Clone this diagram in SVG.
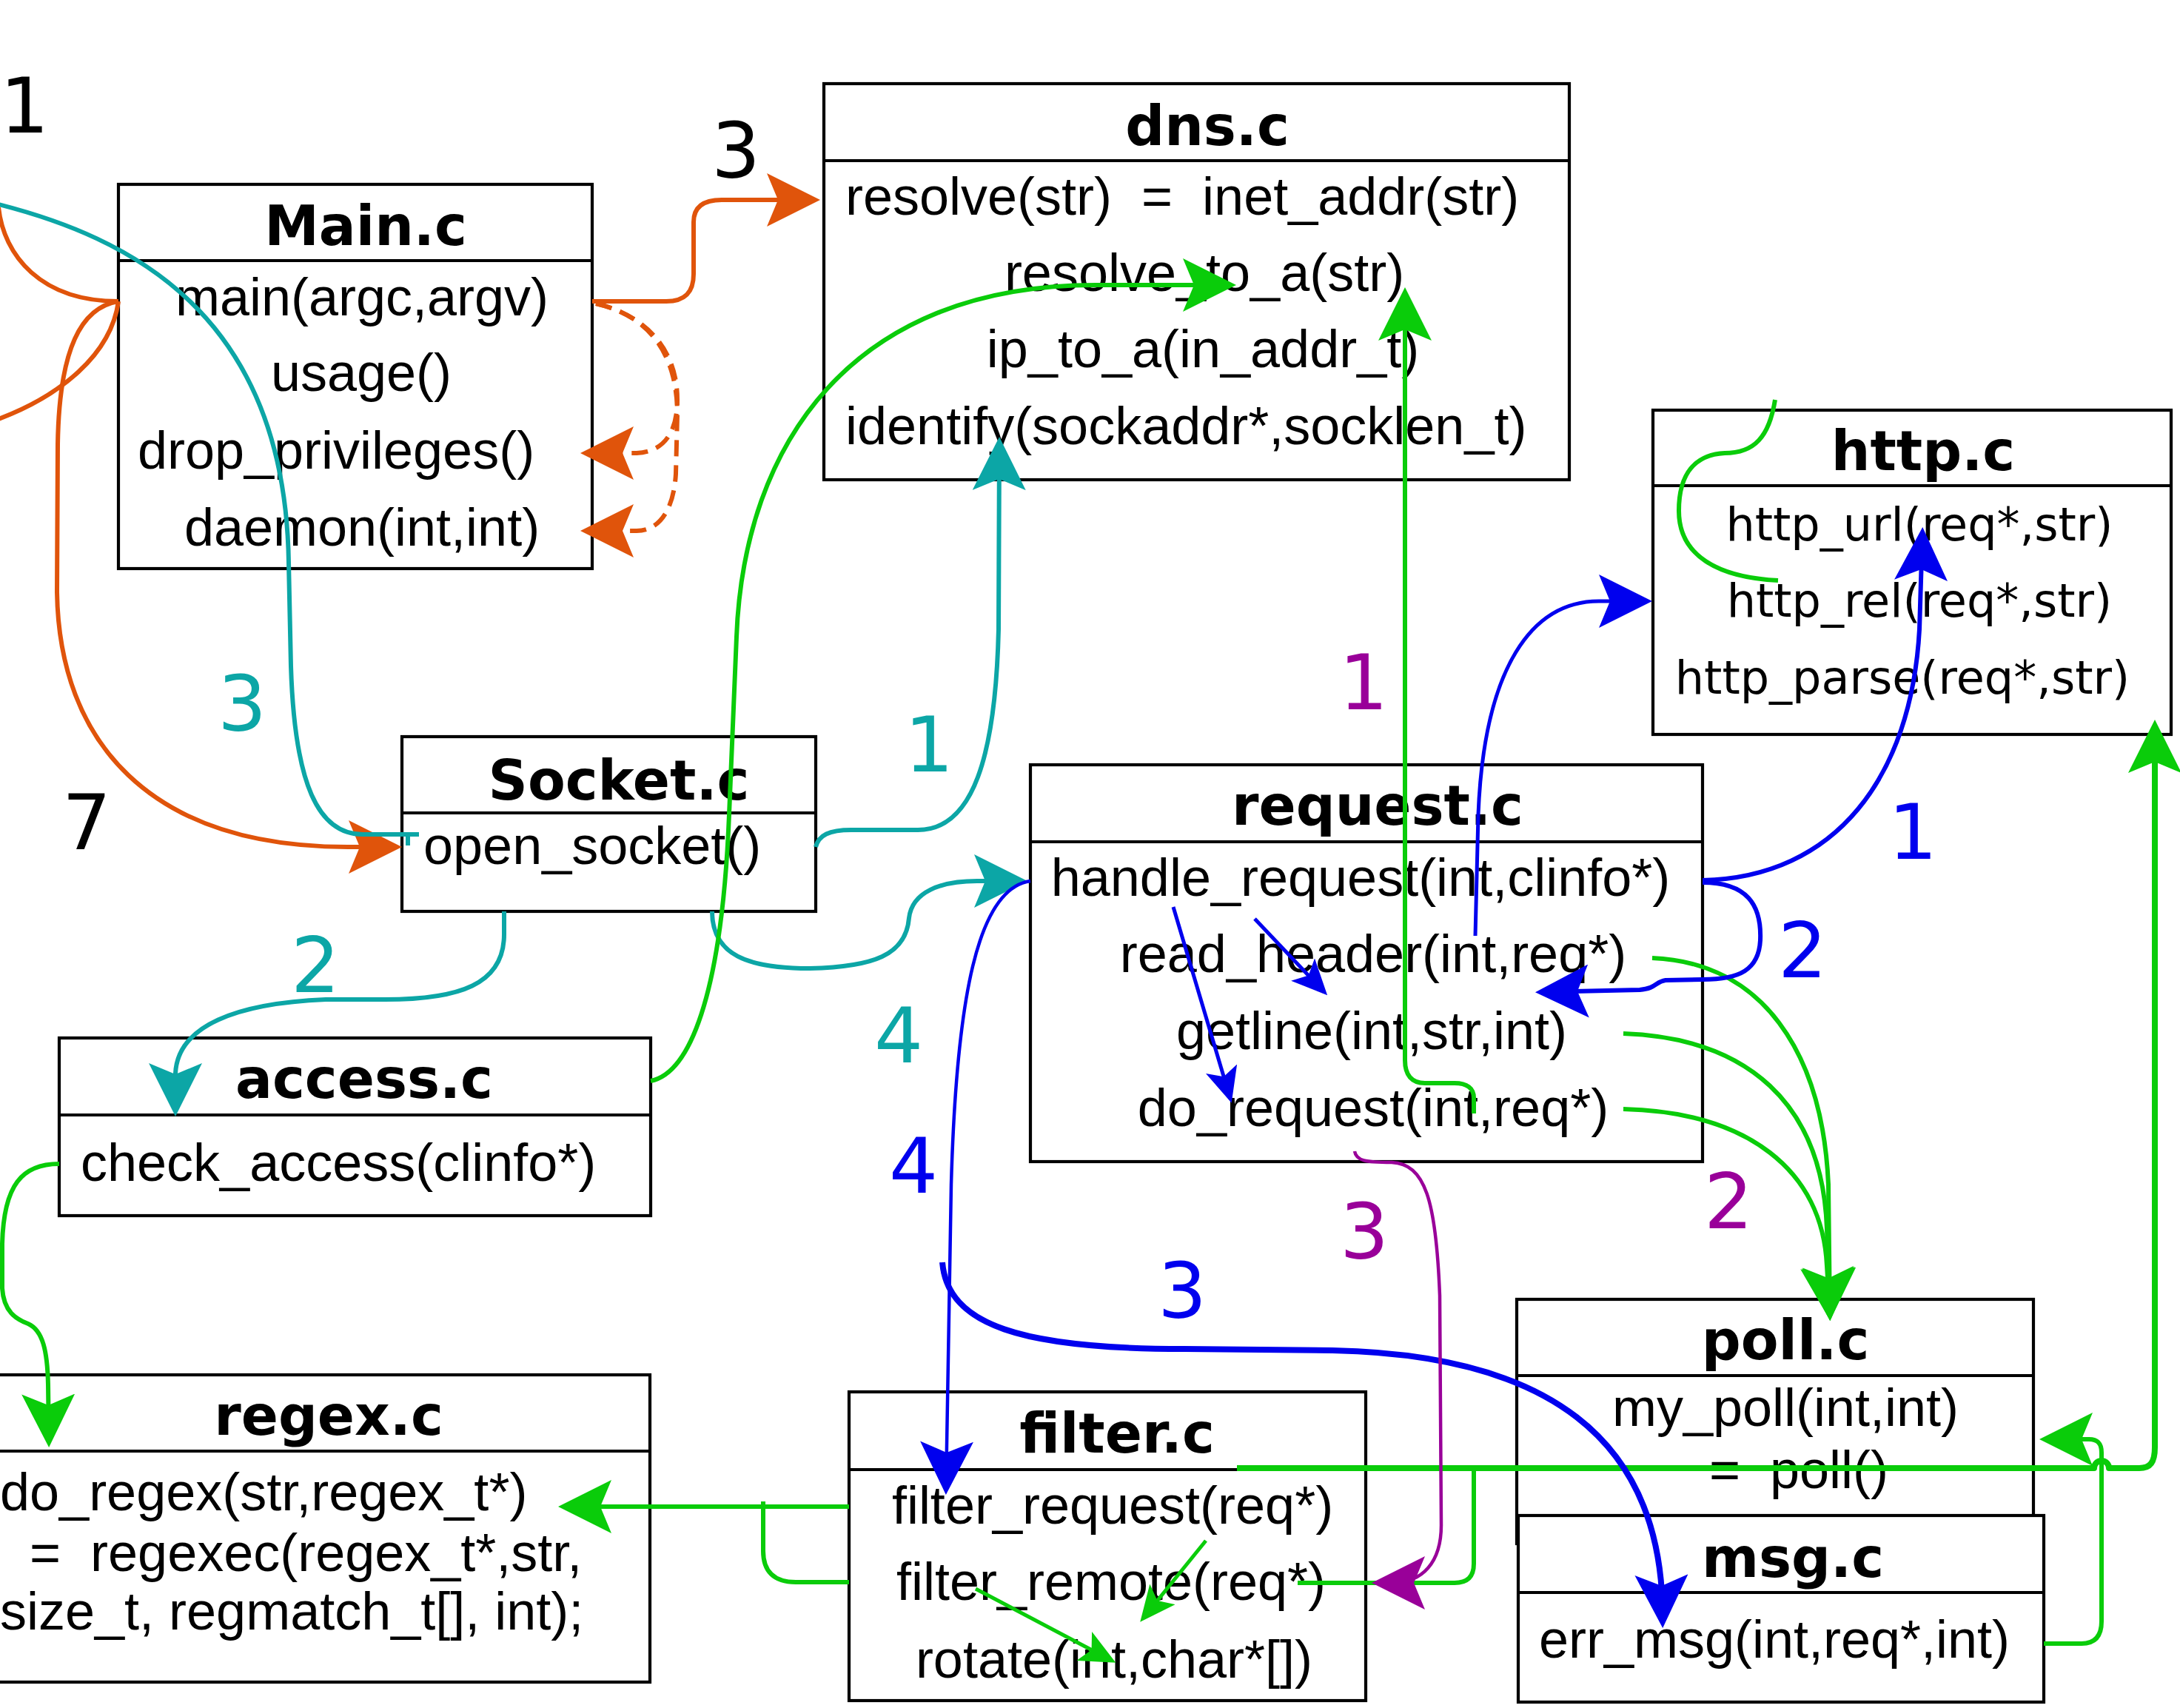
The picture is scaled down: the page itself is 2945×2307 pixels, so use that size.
<svg xmlns="http://www.w3.org/2000/svg" width="2945" height="2307" viewBox="0 0 2945 2307">
<style>
.box{fill:#fff;stroke:#000;stroke-width:4.2}
.ln{stroke:#000;stroke-width:4.2}
.t{font-family:"DejaVu Sans",Verdana,sans-serif;font-weight:bold;font-size:74px;text-anchor:middle;fill:#000}
.m{font-family:"Liberation Sans",Arial,sans-serif;font-size:72px;fill:#000;white-space:pre}
.c{text-anchor:middle}
.h{font-family:"DejaVu Sans",Verdana,sans-serif;font-size:62px;text-anchor:middle;fill:#000}
.n{font-family:"DejaVu Sans",Verdana,sans-serif;font-size:104px;text-anchor:middle}
.e{fill:none;stroke-linecap:butt;stroke-linejoin:round}
.o{stroke:#E0540B;stroke-width:6}
.tl{stroke:#0CA6A6;stroke-width:6}
.g{stroke:#0ACC0A;stroke-width:6}
.b{stroke:#0000EE;stroke-width:6}
.p{stroke:#990099;stroke-width:4.5}
</style>
<defs>
<marker id="mO" viewBox="0 0 72 72" markerWidth="72" markerHeight="72" markerUnits="userSpaceOnUse" refX="64" refY="36" orient="auto"><path d="M0 0L72 36L0 72L15 36Z" fill="#E0540B"/></marker>
<marker id="mT" viewBox="0 0 72 72" markerWidth="72" markerHeight="72" markerUnits="userSpaceOnUse" refX="64" refY="36" orient="auto"><path d="M0 0L72 36L0 72L15 36Z" fill="#0CA6A6"/></marker>
<marker id="mG" viewBox="0 0 72 72" markerWidth="72" markerHeight="72" markerUnits="userSpaceOnUse" refX="64" refY="36" orient="auto"><path d="M0 0L72 36L0 72L15 36Z" fill="#0ACC0A"/></marker>
<marker id="mB" viewBox="0 0 72 72" markerWidth="72" markerHeight="72" markerUnits="userSpaceOnUse" refX="64" refY="36" orient="auto"><path d="M0 0L72 36L0 72L15 36Z" fill="#0000EE"/></marker>
<marker id="mP" viewBox="0 0 72 72" markerWidth="72" markerHeight="72" markerUnits="userSpaceOnUse" refX="64" refY="36" orient="auto"><path d="M0 0L72 36L0 72L15 36Z" fill="#990099"/></marker>
<marker id="sB" viewBox="0 0 48 44" markerWidth="48" markerHeight="44" markerUnits="userSpaceOnUse" refX="42" refY="22" orient="auto"><path d="M0 0L48 22L0 44L11 22Z" fill="#0000EE"/></marker>
<marker id="sG" viewBox="0 0 48 44" markerWidth="48" markerHeight="44" markerUnits="userSpaceOnUse" refX="42" refY="22" orient="auto"><path d="M0 0L48 22L0 44L11 22Z" fill="#0ACC0A"/></marker>
</defs>
<rect width="2945" height="2307" fill="#fff"/>

<g id="main_c">
<rect class="box" x="160" y="249" width="640" height="519"/>
<line class="ln" x1="160" y1="352" x2="800" y2="352"/>
<text class="t" x="494" y="331">Main.c</text>
<text class="m c" x="489" y="426">main(argc,argv)</text>
<text class="m c" x="488" y="528">usage()</text>
<text class="m c" x="454" y="633">drop_privileges()</text>
<text class="m c" x="489" y="737">daemon(int,int)</text>
</g>

<g id="dns_c">
<rect class="box" x="1113" y="113" width="1007" height="535"/>
<line class="ln" x1="1113" y1="217" x2="2120" y2="217"/>
<text class="t" x="1631" y="196">dns.c</text>
<text class="m" x="1142" y="290">resolve(str)  =  inet_addr(str)</text>
<text class="m c" x="1627" y="393">resolve_to_a(str)</text>
<text class="m c" x="1625" y="496">ip_to_a(in_addr_t)</text>
<text class="m" x="1142" y="600">identify(sockaddr*,socklen_t)</text>
</g>

<g id="http_c">
<rect class="box" x="2233" y="554" width="700" height="438"/>
<line class="ln" x1="2233" y1="656" x2="2933" y2="656"/>
<text class="t" x="2598" y="635">http.c</text>
<text class="h" x="2593" y="730">http_url(req*,str)</text>
<text class="h" x="2593" y="833">http_rel(req*,str)</text>
<text class="h" x="2570" y="937">http_parse(req*,str)</text>
</g>

<g id="socket_c">
<rect class="box" x="543" y="995" width="559" height="236"/>
<line class="ln" x1="543" y1="1098" x2="1102" y2="1098"/>
<text class="t" x="836" y="1080">Socket.c</text>
<text class="m" x="572" y="1167">open_socket()</text>
</g>

<g id="access_c">
<rect class="box" x="80" y="1402" width="799" height="240"/>
<line class="ln" x1="80" y1="1506" x2="879" y2="1506"/>
<text class="t" x="492" y="1483">access.c</text>
<text class="m" x="109" y="1595">check_access(clinfo*)</text>
</g>

<g id="request_c">
<rect class="box" x="1392" y="1033" width="908" height="536"/>
<line class="ln" x1="1392" y1="1137" x2="2300" y2="1137"/>
<text class="t" x="1861" y="1114">request.c</text>
<text class="m c" x="1838" y="1210">handle_request(int,clinfo*)</text>
<text class="m c" x="1855" y="1313">read_header(int,req*)</text>
<text class="m c" x="1853" y="1417">getline(int,str,int)</text>
<text class="m c" x="1855" y="1521">do_request(int,req*)</text>
</g>

<g id="regex_c">
<rect class="box" x="-20" y="1857" width="898" height="415"/>
<line class="ln" x1="-20" y1="1960" x2="878" y2="1960"/>
<text class="t" x="444" y="1938">regex.c</text>
<text class="m" x="0" y="2040">do_regex(str,regex_t*)</text>
<text class="m" x="0" y="2122">  =  regexec(regex_t*,str,</text>
<text class="m" x="0" y="2201">size_t, regmatch_t[], int);</text>
</g>

<g id="filter_c">
<rect class="box" x="1147" y="1880" width="698" height="417"/>
<line class="ln" x1="1147" y1="1985" x2="1845" y2="1985"/>
<text class="t" x="1509" y="1962">filter.c</text>
<text class="m c" x="1503" y="2058">filter_request(req*)</text>
<text class="m c" x="1501" y="2161">filter_remote(req*)</text>
<text class="m c" x="1505" y="2266">rotate(int,char*[])</text>
</g>

<g id="poll_c">
<rect class="box" x="2049" y="1755" width="698" height="330"/>
<line class="ln" x1="2049" y1="1858" x2="2747" y2="1858"/>
<text class="t" x="2412" y="1836">poll.c</text>
<text class="m c" x="2412" y="1926">my_poll(int,int)</text>
<text class="m c" x="2430" y="2010">=  poll()</text>
</g>

<g id="msg_c">
<rect class="box" x="2051" y="2047" width="710" height="252"/>
<line class="ln" x1="2051" y1="2151" x2="2761" y2="2151"/>
<text class="t" x="2422" y="2130">msg.c</text>
<text class="m c" x="2397" y="2239">err_msg(int,req*,int)</text>
</g>

<g id="connectors">
<!-- orange -->
<path class="e o" d="M-2 280C5 345 55 407 160 407"/>
<path class="e o" d="M-2 566C80 535 150 480 160 407"/>
<path class="e o" d="M160 407C110 415 80 470 78 600L77 800C80 1000 200 1144 470 1144L535 1144" marker-end="url(#mO)"/>
<path class="e o" d="M800 407L900 407C925 407 937 395 937 370L937 300C937 280 950 270 975 270L1100 270" marker-end="url(#mO)"/>
<path class="e o" stroke-dasharray="22 12" d="M805 410C870 425 915 470 915 540C915 580 900 610 860 612L792 612" marker-end="url(#mO)"/>
<path class="e o" stroke-dasharray="22 12" d="M805 410C870 425 915 470 915 560L913 640C910 690 890 717 860 717L792 717" marker-end="url(#mO)"/>
<!-- teal -->
<path class="e tl" d="M-2 276C170 320 385 420 390 760L393 900C398 1060 430 1127 490 1127L566 1127M551 1127L551 1142"/>
<path class="e tl" d="M1102 1144C1106 1128 1120 1121 1150 1121L1240 1121C1315 1121 1345 1020 1349 850L1350 598" marker-end="url(#mT)"/>
<path class="e tl" d="M681 1231L681 1262C681 1330 620 1350 520 1350L440 1350C320 1355 240 1385 237 1450L237 1500" marker-end="url(#mT)"/>
<path class="e tl" d="M962 1231C962 1290 1010 1308 1094 1308C1180 1306 1224 1290 1228 1240C1232 1205 1270 1190 1320 1190L1380 1190" marker-end="url(#mT)"/>
<!-- green -->
<path class="e g" d="M879 1460C930 1450 975 1350 985 1100L995 860C1005 600 1150 385 1480 385L1662 385" marker-end="url(#mG)"/>
<path class="e g" d="M1991 1504L1991 1483C1991 1470 1982 1463 1965 1463L1925 1463C1907 1463 1898 1452 1898 1432L1898 396" marker-end="url(#mG)"/>
<path class="e g" d="M80 1572C30 1572 5 1600 3 1680L3 1740C5 1772 22 1782 38 1788C58 1797 64 1825 65 1870L66 1947" marker-end="url(#mG)"/>
<path class="e g" d="M1147 2035L762 2035" marker-end="url(#mG)"/>
<path class="e g" d="M1147 2137L1075 2137C1045 2137 1031 2122 1031 2095L1031 2028"/>
<path class="e g" style="stroke-width:8" d="M1671 1983L2829 1983A10 10 0 0 1 2849 1983L2890 1983C2905 1983 2911 1975 2911 1955L2911 980" marker-end="url(#mG)"/>
<path class="e g" d="M1991 1983L1991 2112C1991 2130 1982 2138 1965 2138L1753 2138"/>
<path class="e g" d="M2761 2220L2812 2220C2830 2220 2839 2210 2839 2190L2839 1962C2839 1950 2834 1944 2822 1944L2763 1944" marker-end="url(#mG)"/>
<path class="e g" d="M2232 1294C2380 1300 2462 1420 2470 1600L2472 1776" marker-end="url(#mG)"/>
<path class="e g" d="M2193 1396C2360 1402 2462 1490 2468 1660L2472 1776" marker-end="url(#mG)"/>
<path class="e g" d="M2193 1498C2360 1502 2462 1580 2468 1710L2472 1776" marker-end="url(#mG)"/>
<path class="e g" d="M2398 540C2390 590 2370 612 2330 612C2290 614 2268 640 2268 690C2268 750 2320 780 2402 784"/>
<path class="e g" style="stroke-width:5" d="M1629 2081L1544 2186" marker-end="url(#sG)"/>
<path class="e g" style="stroke-width:5" d="M1318 2146L1502 2243" marker-end="url(#sG)"/>
<!-- blue -->
<path class="e b" style="stroke-width:4.5" d="M1392 1190C1320 1200 1292 1350 1285 1600L1278 2011" marker-end="url(#mB)"/>
<path class="e b" style="stroke-width:8" d="M1273 1705C1280 1790 1380 1822 1600 1822L1800 1824C2100 1830 2232 1950 2245 2150L2246 2191" marker-end="url(#mB)"/>
<path class="e b" d="M2300 1189C2480 1185 2582 1050 2593 850L2597 720" marker-end="url(#mB)"/>
<path class="e b" d="M2300 1192C2360 1192 2380 1222 2378 1270C2376 1310 2350 1323 2300 1323L2250 1324C2236 1326 2238 1335 2215 1337L2082 1340" marker-end="url(#mB)"/>
<path class="e b" style="stroke-width:5" d="M1993 1264L1997 1100C2005 900 2070 812 2160 812L2224 812" marker-end="url(#mB)"/>
<path class="e b" style="stroke-width:5" d="M1585 1225L1662 1484" marker-end="url(#sB)"/>
<path class="e b" style="stroke-width:5" d="M1695 1241L1789 1340" marker-end="url(#sB)"/>
<!-- purple -->
<path class="e p" d="M1830 1555C1832 1568 1845 1570 1880 1570C1925 1572 1940 1620 1945 1750L1947 2060C1947 2110 1922 2138 1880 2138L1861 2138" marker-end="url(#mP)"/>
<!-- labels -->
<text class="n" x="33" y="179" fill="#000">1</text>
<text class="n" x="994" y="240" fill="#000">3</text>
<text class="n" x="117" y="1147" fill="#000">7</text>
<text class="n" x="327" y="987" fill="#0CA6A6">3</text>
<text class="n" x="426" y="1340" fill="#0CA6A6">2</text>
<text class="n" x="1255" y="1042" fill="#0CA6A6">1</text>
<text class="n" x="1214" y="1435" fill="#0CA6A6">4</text>
<text class="n" x="1234" y="1611" fill="#0000EE">4</text>
<text class="n" x="2584" y="1160" fill="#0000EE">1</text>
<text class="n" x="2435" y="1320" fill="#0000EE">2</text>
<text class="n" x="1597" y="1780" fill="#0000EE">3</text>
<text class="n" x="1842" y="958" fill="#990099">1</text>
<text class="n" x="2335" y="1659" fill="#990099">2</text>
<text class="n" x="1843" y="1700" fill="#990099">3</text>
</g>
</svg>
